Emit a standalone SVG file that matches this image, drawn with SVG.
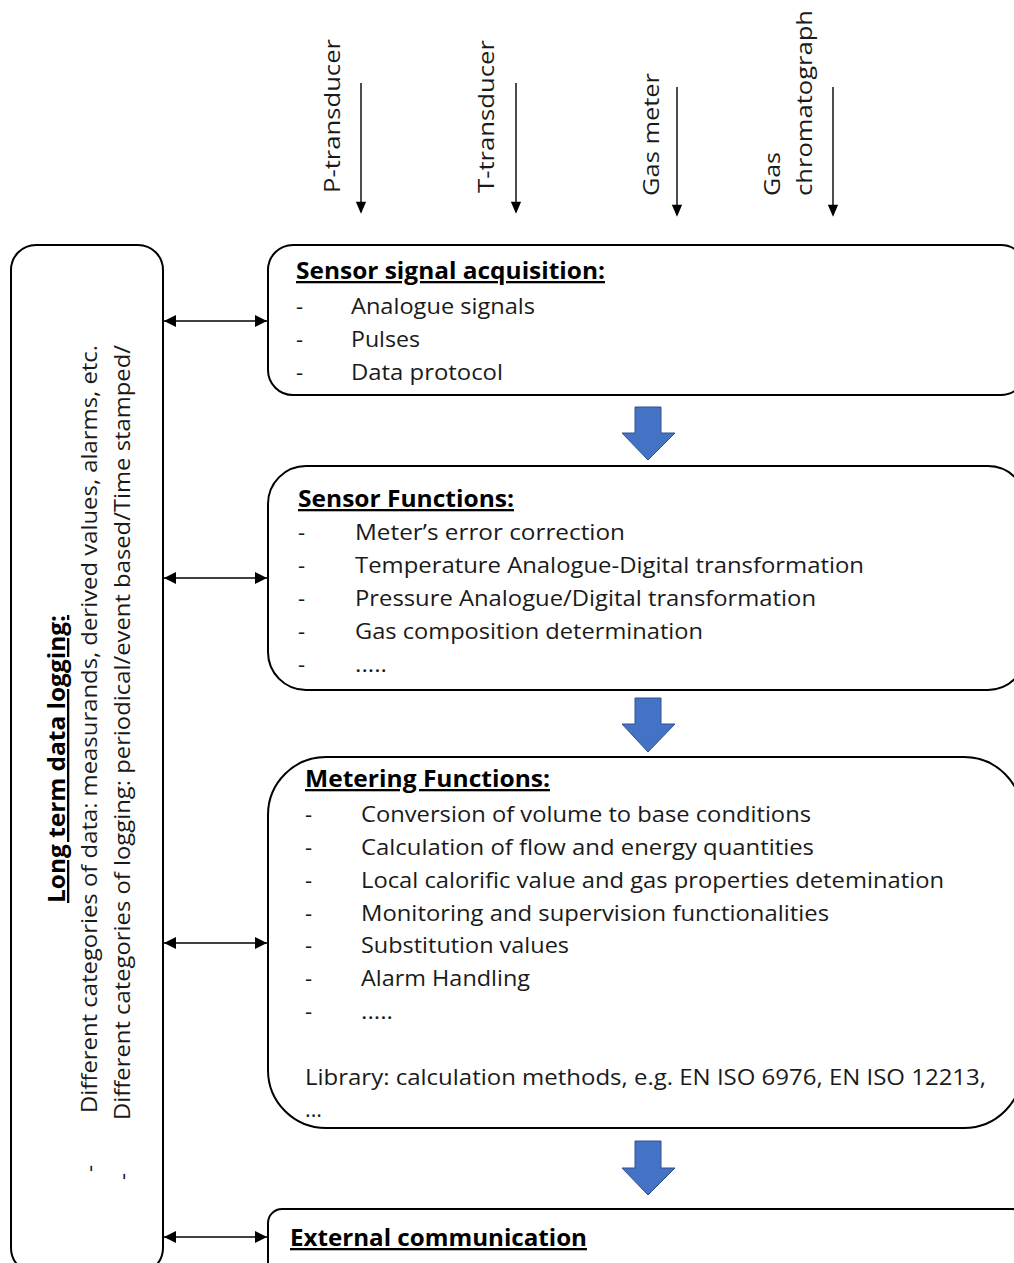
<svg xmlns="http://www.w3.org/2000/svg" width="1014" height="1263" viewBox="0 0 1014 1263">
  <style>
    .box { fill: #ffffff; stroke: #000000; stroke-width: 2; }
    .t { font-family: "Open Sans", "Noto Sans", sans-serif; font-size: 22px; fill: #1a1a1a; }
    .h { font-family: "Open Sans", "Noto Sans", sans-serif; font-size: 23px; font-weight: bold; fill: #000000; text-decoration: underline; }
    .wire { stroke: #000000; stroke-width: 1.4; fill: none; }
    .flow { fill: #4472C4; stroke: #2F528F; stroke-width: 1; }
  </style>
  <defs>
    <marker id="tip" viewBox="0 0 12 12" refX="12" refY="6" markerWidth="12" markerHeight="12" markerUnits="userSpaceOnUse" orient="auto-start-reverse">
      <path d="M0,0 L12,6 L0,12 Z" fill="#000000"/>
    </marker>
    <marker id="tipDown" viewBox="0 0 12 14" refX="12" refY="6" markerWidth="14" markerHeight="12" markerUnits="userSpaceOnUse" orient="auto">
      <path d="M0,0 L14,6 L0,12 Z" fill="#000000"/>
    </marker>
  </defs>
  <rect width="1014" height="1263" fill="#ffffff"/>

  <!-- input signal labels -->
  <g id="inputs">
    <text class="t" transform="translate(340,193) rotate(-90)" textLength="154" lengthAdjust="spacingAndGlyphs">P-transducer</text>
    <text class="t" transform="translate(494,193) rotate(-90)" textLength="153" lengthAdjust="spacingAndGlyphs">T-transducer</text>
    <text class="t" transform="translate(659,196) rotate(-90)" textLength="123" lengthAdjust="spacingAndGlyphs">Gas meter</text>
    <text class="t" transform="translate(780,196) rotate(-90)" textLength="44" lengthAdjust="spacingAndGlyphs">Gas</text>
    <text class="t" transform="translate(812,196) rotate(-90)" textLength="186" lengthAdjust="spacingAndGlyphs">chromatograph</text>
  </g>

  <!-- long term data logging -->
  <g id="logging">
    <rect class="box" x="11" y="245" width="152" height="1028" rx="25" ry="25"/>
    <text class="h" transform="translate(65,903) rotate(-90)" textLength="288" lengthAdjust="spacingAndGlyphs">Long term data logging:</text>
    <text class="t" transform="translate(97,1172) rotate(-90)">-</text>
    <text class="t" transform="translate(97,1113) rotate(-90)" textLength="768" lengthAdjust="spacingAndGlyphs">Different categories of data: measurands, derived values, alarms, etc.</text>
    <text class="t" transform="translate(130,1180) rotate(-90)">-</text>
    <text class="t" transform="translate(130,1120) rotate(-90)" textLength="775" lengthAdjust="spacingAndGlyphs">Different categories of logging: periodical/event based/Time stamped/</text>
  </g>

  <!-- sensor signal acquisition -->
  <g id="acquisition">
    <rect class="box" x="268" y="245" width="758" height="150" rx="25" ry="25"/>
    <text class="h" x="296" y="279" textLength="309" lengthAdjust="spacingAndGlyphs">Sensor signal acquisition:</text>
    <text class="t" x="296" y="314">-</text>
    <text class="t" x="351" y="314" textLength="184" lengthAdjust="spacingAndGlyphs">Analogue signals</text>
    <text class="t" x="296" y="347">-</text>
    <text class="t" x="351" y="347" textLength="69" lengthAdjust="spacingAndGlyphs">Pulses</text>
    <text class="t" x="296" y="380">-</text>
    <text class="t" x="351" y="380" textLength="152" lengthAdjust="spacingAndGlyphs">Data protocol</text>
  </g>

  <!-- sensor functions -->
  <g id="sensor-functions">
    <rect class="box" x="268" y="466" width="758" height="224" rx="38" ry="38"/>
    <text class="h" x="298" y="507" textLength="216" lengthAdjust="spacingAndGlyphs">Sensor Functions:</text>
    <text class="t" x="298" y="540">-</text>
    <text class="t" x="355" y="540" textLength="270" lengthAdjust="spacingAndGlyphs">Meter’s error correction</text>
    <text class="t" x="298" y="573">-</text>
    <text class="t" x="355" y="573" textLength="509" lengthAdjust="spacingAndGlyphs">Temperature Analogue-Digital transformation</text>
    <text class="t" x="298" y="606">-</text>
    <text class="t" x="355" y="606" textLength="461" lengthAdjust="spacingAndGlyphs">Pressure Analogue/Digital transformation</text>
    <text class="t" x="298" y="639">-</text>
    <text class="t" x="355" y="639" textLength="348" lengthAdjust="spacingAndGlyphs">Gas composition determination</text>
    <text class="t" x="298" y="672">-</text>
    <text class="t" x="355" y="672" textLength="32" lengthAdjust="spacingAndGlyphs">.....</text>
  </g>

  <!-- metering functions -->
  <g id="metering-functions">
    <rect class="box" x="268" y="757" width="754" height="371" rx="58" ry="58"/>
    <text class="h" x="305" y="787" textLength="245" lengthAdjust="spacingAndGlyphs">Metering Functions:</text>
    <text class="t" x="305" y="822">-</text>
    <text class="t" x="361" y="822" textLength="450" lengthAdjust="spacingAndGlyphs">Conversion of volume to base conditions</text>
    <text class="t" x="305" y="855">-</text>
    <text class="t" x="361" y="855" textLength="453" lengthAdjust="spacingAndGlyphs">Calculation of flow and energy quantities</text>
    <text class="t" x="305" y="888">-</text>
    <text class="t" x="361" y="888" textLength="583" lengthAdjust="spacingAndGlyphs">Local calorific value and gas properties detemination</text>
    <text class="t" x="305" y="921">-</text>
    <text class="t" x="361" y="921" textLength="468" lengthAdjust="spacingAndGlyphs">Monitoring and supervision functionalities</text>
    <text class="t" x="305" y="953">-</text>
    <text class="t" x="361" y="953" textLength="208" lengthAdjust="spacingAndGlyphs">Substitution values</text>
    <text class="t" x="305" y="986">-</text>
    <text class="t" x="361" y="986" textLength="169" lengthAdjust="spacingAndGlyphs">Alarm Handling</text>
    <text class="t" x="305" y="1019">-</text>
    <text class="t" x="361" y="1019" textLength="32" lengthAdjust="spacingAndGlyphs">.....</text>
    <text class="t" x="305" y="1085" textLength="681" lengthAdjust="spacingAndGlyphs">Library: calculation methods, e.g. EN ISO 6976, EN ISO 12213,</text>
    <text class="t" x="305" y="1117" textLength="17" lengthAdjust="spacingAndGlyphs">...</text>
  </g>

  <!-- external communication -->
  <g id="external-communication">
    <rect class="box" x="268" y="1209" width="758" height="80" rx="14" ry="14"/>
    <text class="h" x="290" y="1246" textLength="297" lengthAdjust="spacingAndGlyphs">External communication</text>
  </g>

  <!-- connectors -->
  <g id="connectors">
    <line class="wire" x1="361" y1="83" x2="361" y2="212" marker-end="url(#tipDown)"/>
    <line class="wire" x1="516" y1="83" x2="516" y2="212" marker-end="url(#tipDown)"/>
    <line class="wire" x1="677" y1="87" x2="677" y2="215" marker-end="url(#tipDown)"/>
    <line class="wire" x1="833" y1="87" x2="833" y2="215" marker-end="url(#tipDown)"/>

    <line class="wire" x1="164" y1="321" x2="267" y2="321" marker-start="url(#tip)" marker-end="url(#tip)"/>
    <line class="wire" x1="164" y1="578" x2="267" y2="578" marker-start="url(#tip)" marker-end="url(#tip)"/>
    <line class="wire" x1="164" y1="943" x2="267" y2="943" marker-start="url(#tip)" marker-end="url(#tip)"/>
    <line class="wire" x1="164" y1="1237" x2="267" y2="1237" marker-start="url(#tip)" marker-end="url(#tip)"/>

    <path class="flow" d="M635,407 H661 V433 H675 L648,460 L622,433 H635 Z"/>
    <path class="flow" d="M635,698 H661 V724 H675 L648,752 L622,724 H635 Z"/>
    <path class="flow" d="M635,1141 H661 V1168 H675 L648,1195 L622,1168 H635 Z"/>
  </g>
</svg>
